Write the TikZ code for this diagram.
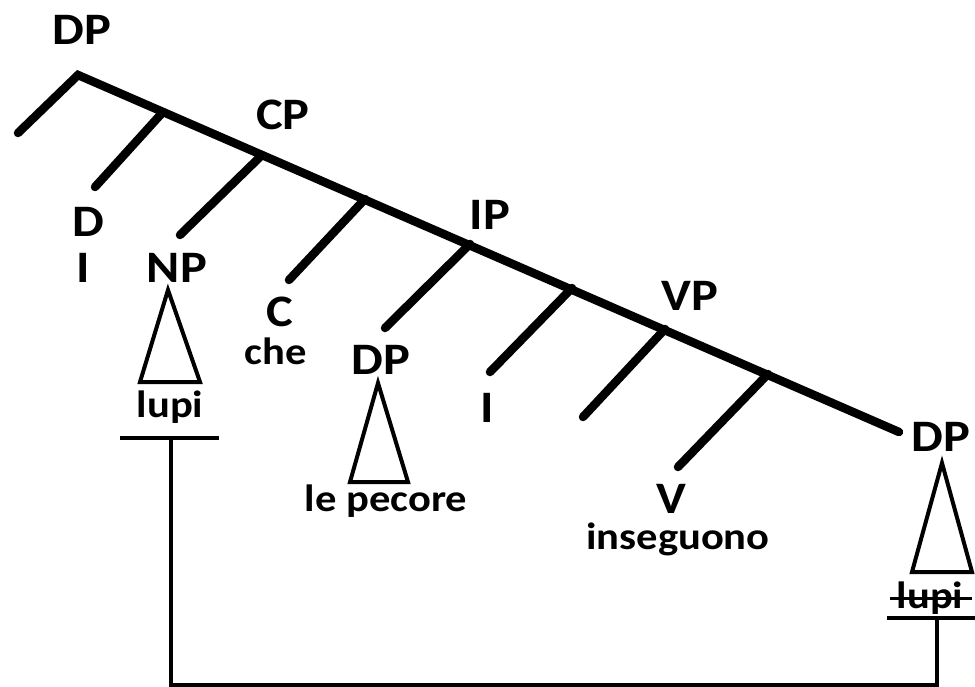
\documentclass[tikz,border=0pt]{standalone}
\usepackage{fontspec}
\setmainfont{Carlito}[BoldFont={Carlito Bold},FakeStretch=1.12]
\begin{document}
\begin{tikzpicture}[x=1pt,y=-1pt,
  big/.style={font=\bfseries\fontsize{45}{50}\selectfont, inner sep=0pt},
  small/.style={font=\bfseries\fontsize{38}{42}\selectfont, inner sep=0pt},
  thick line/.style={line width=8.5pt, line cap=round},
  thin line/.style={line width=4pt},
  tri/.style={line width=4pt, line join=miter}]
\useasboundingbox (0,0) rectangle (975,687);
% spine coordinates
\coordinate (top) at (78,75);
\coordinate (left) at (18,133);
\coordinate (jD) at (163,112);
\coordinate (jCP) at (262,155);
\coordinate (jC) at (365,199);
\coordinate (jIP) at (470,244);
\coordinate (jI) at (572,288);
\coordinate (jVP) at (665,329);
\coordinate (jV) at (768,374);
\coordinate (bot) at (899,432);
\coordinate (eD) at (95,187);
\coordinate (eNP) at (180,235);
\coordinate (eC) at (289,280);
\coordinate (eDP) at (385,328);
\coordinate (eI) at (490,372);
\coordinate (eVP) at (583,417);
\coordinate (eV) at (678,467);
\draw[thick line] (left) -- (top) -- (bot);
\draw[thick line] (jD) -- (eD);
\draw[thick line] (jCP) -- (eNP);
\draw[thick line] (jC) -- (eC);
\draw[thick line] (jIP) -- (eDP);
\draw[thick line] (jI) -- (eI);
\draw[thick line] (jVP) -- (eVP);
\draw[thick line] (jV) -- (eV);
% labels
\node[big] (DP0) at (82,30) {DP};
\node[big] (CP) at (283,115) {CP};
\node[big] (IP) at (490,215) {IP};
\node[big] (VP) at (690,296) {VP};
\node[big] (D) at (88,222) {D};
\node[big] (i) at (83,268) {I};
\node[big] (NP) at (177,268) {NP};
\node[big] (C) at (280,312) {C};
\node[small] (che) at (276,351) {che};
\node[big] (DP1) at (381,360) {DP};
\node[big] (I) at (487,408) {I};
\node[big] (V) at (671,499) {V};
\node[small] (ins) at (678,539) {inseguono};
\node[big] (DP2) at (941,437) {DP};
% triangles
\draw[tri] (168,290) -- (200,382) -- (140,382) -- cycle;
\draw[tri] (378,383) -- (408,482) -- (350,482) -- cycle;
\draw[tri] (942,463) -- (972,572) -- (912,572) -- cycle;
\node[small] (lupi1) at (170,407) {lupi};
\node[small] (pec) at (386,501) {le pecore};
\node[small] (lupi2) at (930,598) {lupi};
\draw[line width=3pt] (890,598) -- (972,598);
% movement
\coordinate (bL1) at (120,438);
\coordinate (bL2) at (219,438);
\coordinate (mL) at (171,438);
\coordinate (bR1) at (887,618);
\coordinate (bR2) at (975,618);
\coordinate (mR) at (937,618);
\draw[thin line] (bL1) -- (bL2);
\draw[thin line] (bR1) -- (bR2);
\draw[thin line] (mL) -- (171,685) -- (937,685) -- (mR);
\end{tikzpicture}
\end{document}
